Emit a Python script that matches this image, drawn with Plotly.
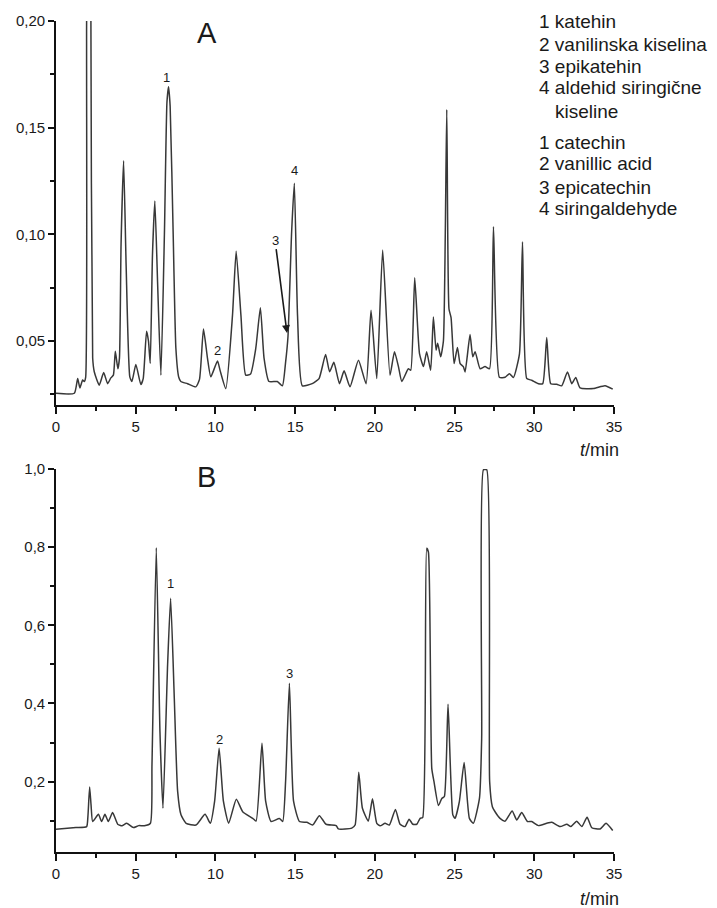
import plotly.graph_objects as go

W, H = 717, 908

# ---------------- data ----------------
A_T = [0.0, 1.15, 1.36, 1.50, 1.67, 1.77, 1.86, 1.92, 2.05, 2.19, 2.30, 2.40, 2.71, 2.99, 3.24,
       3.44, 3.60, 3.72, 3.88, 3.98, 4.08, 4.24, 4.40, 4.63, 4.76, 5.01, 5.32, 5.47, 5.68, 5.80,
       5.91, 6.05, 6.20, 6.37, 6.58, 6.80, 6.96, 7.06, 7.16, 7.35, 7.52, 7.70, 7.83, 8.25, 8.77,
       9.00, 9.25, 9.50, 9.71, 10.13, 10.30, 10.65, 11.07, 11.30, 11.60, 11.90, 12.20, 12.53,
       12.82, 13.05, 13.36, 13.88, 14.20, 14.40, 14.55, 14.78, 14.95, 15.15, 15.45, 16.07, 16.50,
       16.91, 17.16, 17.43, 17.78, 18.07, 18.44, 18.97, 19.45, 19.76, 20.12, 20.49, 20.95, 21.23,
       21.48, 21.69, 22.10, 22.25, 22.50, 22.80, 23.05, 23.25, 23.50, 23.67, 23.84, 23.94, 24.13,
       24.30, 24.51, 24.65, 24.78, 24.97, 25.18, 25.35, 25.55, 25.66, 25.97, 26.14, 26.29, 26.60,
       26.91, 27.19, 27.44, 27.81, 28.17, 28.44, 28.69, 29.07, 29.26, 29.53, 29.84, 30.26, 30.53,
       30.78, 31.03, 31.41, 31.72, 32.08, 32.35, 32.60, 32.87, 33.71, 34.44, 34.92]
A_V = [0.0255, 0.0255, 0.0324, 0.0280, 0.0317, 0.0310, 0.0330, 0.2000, 0.4500, 0.2000, 0.0420,
       0.0356, 0.0293, 0.0352, 0.0300, 0.0327, 0.0340, 0.0452, 0.0370, 0.0420, 0.0950, 0.1345,
       0.0850, 0.0332, 0.0310, 0.0390, 0.0296, 0.0324, 0.0546, 0.0500, 0.0395, 0.0900, 0.1156,
       0.0778, 0.0340, 0.1000, 0.1620, 0.1692, 0.1600, 0.1000, 0.0465, 0.0330, 0.0310, 0.0300,
       0.0285, 0.0320, 0.0556, 0.0420, 0.0332, 0.0406, 0.0360, 0.0277, 0.0620, 0.0921, 0.0620,
       0.0340, 0.0345, 0.0465, 0.0656, 0.0420, 0.0310, 0.0310, 0.0290, 0.0400, 0.0520, 0.1012,
       0.1239, 0.0620, 0.0290, 0.0300, 0.0324, 0.0437, 0.0356, 0.0400, 0.0300, 0.0360, 0.0285,
       0.0410, 0.0300, 0.0644, 0.0324, 0.0926, 0.0340, 0.0450, 0.0380, 0.0310, 0.0370, 0.0363,
       0.0796, 0.0441, 0.0380, 0.0450, 0.0363, 0.0613, 0.0457, 0.0490, 0.0426, 0.0500, 0.1585,
       0.0650, 0.0610, 0.0394, 0.0470, 0.0394, 0.0380, 0.0355, 0.0530, 0.0426, 0.0450, 0.0370,
       0.0380, 0.0370, 0.1035, 0.0330, 0.0330, 0.0347, 0.0329, 0.0440, 0.0965, 0.0324, 0.0316,
       0.0300, 0.0300, 0.0516, 0.0300, 0.0297, 0.0290, 0.0355, 0.0300, 0.0329, 0.0280, 0.0277,
       0.0290, 0.0274]

B_T = [0.00, 1.25, 1.92, 2.00, 2.11, 2.20, 2.30, 2.66, 2.86, 3.07, 3.28, 3.55, 3.87, 4.14, 4.43,
       4.85, 5.19, 5.54, 5.92, 6.02, 6.29, 6.52, 6.71, 7.00, 7.19, 7.42, 7.63, 7.84, 8.16, 8.78,
       9.35, 9.68, 9.95, 10.23, 10.50, 10.83, 11.31, 11.71, 12.34, 12.55, 12.92, 13.15, 13.49,
       14.01, 14.22, 14.40, 14.64, 14.90, 15.27, 15.73, 16.10, 16.52, 16.94, 17.57, 17.71, 18.55,
       18.76, 18.99, 19.22, 19.59, 19.85, 20.12, 20.33, 20.64, 20.91, 21.29, 21.58, 21.89, 22.15,
       22.38, 22.63, 22.84, 23.00, 23.25, 23.36, 23.57, 23.71, 23.99, 24.20, 24.36, 24.59, 24.89,
       25.03, 25.30, 25.60, 25.93, 26.18, 26.56, 26.70, 26.81, 27.02, 27.20, 27.37, 27.54, 27.85,
       28.17, 28.61, 28.90, 29.21, 29.57, 29.84, 30.26, 30.78, 31.10, 31.62, 32.04, 32.29, 32.66,
       32.98, 33.31, 33.61, 34.13, 34.50, 34.92]
B_V = [0.078, 0.0824, 0.0849, 0.110, 0.186, 0.140, 0.098, 0.1165, 0.098, 0.1165, 0.098, 0.121,
       0.091, 0.087, 0.0935, 0.0824, 0.0875, 0.087, 0.0935, 0.243, 0.7987, 0.328, 0.132, 0.499,
       0.669, 0.413, 0.175, 0.115, 0.0935, 0.089, 0.1165, 0.0935, 0.150, 0.2853, 0.150, 0.0935,
       0.155, 0.1233, 0.1062, 0.099, 0.2981, 0.150, 0.098, 0.106, 0.098, 0.200, 0.4516, 0.150,
       0.098, 0.096, 0.089, 0.113, 0.091, 0.0875, 0.079, 0.081, 0.089, 0.224, 0.132, 0.099,
       0.156, 0.0935, 0.087, 0.0935, 0.089, 0.129, 0.091, 0.085, 0.104, 0.091, 0.091, 0.1062,
       0.108, 0.797, 0.787, 0.234, 0.200, 0.139, 0.157, 0.162, 0.398, 0.115, 0.1062, 0.149,
       0.249, 0.106, 0.0935, 0.157, 0.311, 0.998, 0.998, 0.200, 0.136, 0.123, 0.106, 0.099,
       0.125, 0.102, 0.121, 0.098, 0.098, 0.0875, 0.0935, 0.096, 0.085, 0.091, 0.085, 0.099,
       0.085, 0.109, 0.082, 0.079, 0.0935, 0.075]

X_TICKS = [0, 5, 10, 15, 20, 25, 30, 35]
X_TICKTEXT = ["0", "5", "10", "15", "20", "25", "30", "35"]
X_MINOR = [2.5, 7.5, 12.5, 17.5, 22.5, 27.5, 32.5]
A_YTICKS = [0.05, 0.10, 0.15, 0.20]
A_YTICKTEXT = ["0,05", "0,10", "0,15", "0,20"]
A_YMINOR = [0.025, 0.075, 0.125, 0.175]
B_YTICKS = [0.2, 0.4, 0.6, 0.8, 1.0]
B_YTICKTEXT = ["0,2", "0,4", "0,6", "0,8", "1,0"]
B_YMINOR = [0.1, 0.3, 0.5, 0.7, 0.9]

LEGEND_SR = ["1 katehin", "2 vanilinska kiselina", "3 epikatehin", "4 aldehid siringične", "kiseline"]
LEGEND_EN = ["1 catechin", "2 vanillic acid", "3 epicatechin", "4 siringaldehyde"]
PANEL_LABELS = ["A", "B"]
AXIS_TITLE = "<i>t</i>/min"

# ---------------- layout helpers ----------------
FONT = "Liberation Sans, Arial, Helvetica, sans-serif"
LINE_C = "#383838"
AX_C = "#111111"
TXT_C = "#1a1a1a"


def px2x(px):
    return px / W


def py2y(py):
    return 1 - py / H


XDOM = [px2x(56), px2x(614)]
A_YDOM = [py2y(405), py2y(21)]
B_YDOM = [py2y(852), py2y(469)]


def xaxis(anchor):
    return dict(domain=XDOM, anchor=anchor, range=[0, 35], showline=True, linecolor=AX_C,
                linewidth=1.6, ticks="outside", ticklen=7, tickwidth=1.5, tickcolor=AX_C,
                tickmode="array", tickvals=X_TICKS, ticktext=X_TICKTEXT,
                minor=dict(tickmode="array", tickvals=X_MINOR, ticks="outside", ticklen=4,
                           tickwidth=1.5, tickcolor=AX_C, showgrid=False),
                showgrid=False, zeroline=False, fixedrange=True,
                tickfont=dict(family=FONT, size=15, color=TXT_C))


def yaxis(anchor, dom, rng, tv, tt, mv):
    return dict(domain=dom, anchor=anchor, range=rng, showline=True, linecolor=AX_C,
                linewidth=1.6, ticks="outside", ticklen=6, tickwidth=1.5, tickcolor=AX_C,
                tickmode="array", tickvals=tv, ticktext=tt,
                minor=dict(tickmode="array", tickvals=mv, ticks="outside", ticklen=4,
                           tickwidth=1.5, tickcolor=AX_C, showgrid=False),
                showgrid=False, zeroline=False, fixedrange=True,
                tickfont=dict(family=FONT, size=15, color=TXT_C))


fig = go.Figure()
fig.add_trace(go.Scatter(x=A_T, y=A_V, mode="lines", xaxis="x", yaxis="y",
                         line=dict(color=LINE_C, width=1.5, shape="spline", smoothing=0.5),
                         showlegend=False, hoverinfo="skip"))
fig.add_trace(go.Scatter(x=B_T, y=B_V, mode="lines", xaxis="x2", yaxis="y2",
                         line=dict(color=LINE_C, width=1.5, shape="spline", smoothing=0.5),
                         showlegend=False, hoverinfo="skip"))

ann = []


def text_px(txt, px, py, size, xanchor="center", yanchor="middle"):
    ann.append(dict(text=txt, x=px2x(px), y=py2y(py), xref="paper", yref="paper",
                    xanchor=xanchor, yanchor=yanchor, showarrow=False,
                    font=dict(family=FONT, size=size, color=TXT_C)))


# panel letters
text_px(PANEL_LABELS[0], 207, 33, 29)
text_px(PANEL_LABELS[1], 207, 477, 29)

# axis titles
text_px(AXIS_TITLE, 621, 450, 18, xanchor="right")
text_px(AXIS_TITLE, 621, 899, 18, xanchor="right")

# legend text
sr_y = [21, 44, 66, 88, 111]
for i, (t, y) in enumerate(zip(LEGEND_SR, sr_y)):
    text_px(t, 553 if i == 4 else 537, y, 19, xanchor="left")
en_y = [142, 164, 187, 209]
for t, y in zip(LEGEND_EN, en_y):
    text_px(t, 537, y, 19, xanchor="left")


def peak_label(txt, x, y, xr, yr):
    ann.append(dict(text=txt, x=x, y=y, xref=xr, yref=yr, showarrow=False,
                    xanchor="center", yanchor="middle",
                    font=dict(family=FONT, size=13, color=TXT_C)))


peak_label("1", 6.96, 0.1737, "x", "y")
peak_label("2", 10.16, 0.0457, "x", "y")
peak_label("4", 14.99, 0.130, "x", "y")
ann.append(dict(text="3", x=14.49, y=0.0537, xref="x", yref="y", showarrow=True,
                ax=-12, ay=-93, axref="pixel", ayref="pixel", arrowhead=2, arrowsize=1,
                arrowwidth=1.6, arrowcolor=TXT_C, standoff=0,
                font=dict(family=FONT, size=13, color=TXT_C)))
peak_label("1", 7.21, 0.706, "x2", "y2")
peak_label("2", 10.23, 0.307, "x2", "y2")
peak_label("3", 14.62, 0.478, "x2", "y2")

fig.update_layout(
    width=W, height=H, margin=dict(l=0, r=0, t=0, b=0, autoexpand=False),
    paper_bgcolor="white", plot_bgcolor="white",
    xaxis=xaxis("y"),
    yaxis=yaxis("x", A_YDOM, [0.02, 0.20], A_YTICKS, A_YTICKTEXT, A_YMINOR),
    xaxis2=xaxis("y2"),
    yaxis2=yaxis("x2", B_YDOM, [0.02, 1.0], B_YTICKS, B_YTICKTEXT, B_YMINOR),
    annotations=ann,
    showlegend=False,
)

# the page body has a default 8px margin; remove it so the figure fills the window
fig.write_html("out.html", config={"displayModeBar": False},
               post_script="document.body.style.margin='0';document.body.style.overflow='hidden';")
